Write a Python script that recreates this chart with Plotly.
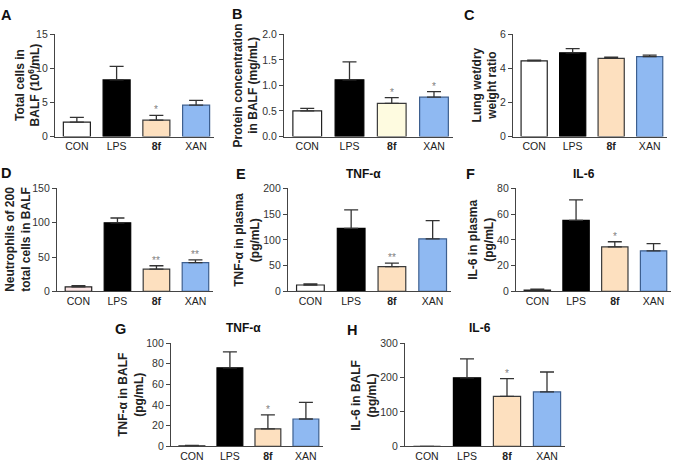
import plotly.graph_objects as go

W, H = 675, 466

groups = ["CON", "LPS", "8f", "XAN"]
group_ticks = ["CON", "LPS", "<b>8f</b>", "XAN"]

# A - total cells in BALF
total_cells = [2.1, 8.3, 2.4, 4.6]
total_cells_err = [0.7, 2.0, 0.7, 0.7]
total_cells_sig = ["", "", "*", ""]
# B - protein concentration in BALF
protein = [0.50, 1.11, 0.65, 0.77]
protein_err = [0.05, 0.35, 0.11, 0.11]
protein_sig = ["", "", "*", "*"]
# C - lung wet/dry ratio
wet_dry = [4.44, 4.91, 4.59, 4.69]
wet_dry_err = [0.04, 0.25, 0.06, 0.09]
wet_dry_sig = ["", "", "", ""]
# D - neutrophils
neutrophils = [6.6, 99.7, 32.3, 41.8]
neutrophils_err = [2.0, 7.0, 5.0, 4.0]
neutrophils_sig = ["", "", "**", "**"]
# E - TNF-a plasma
tnf_plasma = [12.5, 122.0, 48.0, 102.0]
tnf_plasma_err = [2.0, 36.0, 7.0, 35.0]
tnf_plasma_sig = ["", "", "**", ""]
# F - IL-6 plasma
il6_plasma = [1.0, 55.0, 34.5, 31.5]
il6_plasma_err = [0.8, 16.0, 4.0, 5.5]
il6_plasma_sig = ["", "", "*", ""]
# G - TNF-a BALF
tnf_balf = [0.6, 76.0, 17.0, 26.5]
tnf_balf_err = [0.4, 15.5, 13.5, 16.0]
tnf_balf_sig = ["", "", "*", ""]
# H - IL-6 BALF
il6_balf = [0.0, 199.0, 145.0, 158.0]
il6_balf_err = [0.0, 55.0, 52.0, 58.0]
il6_balf_sig = ["", "", "*", ""]

con_white = "#ffffff"
lps = "#000000"
peach = "#fde0bf"
blue = "#8fb9f2"

# box = plot area in pixels: (x of y-axis, x end, y of top tick, y of baseline)
panels = [
    dict(letter="A", v=total_cells, e=total_cells_err, s=total_cells_sig, ymax=15, dt=5, fmt="",
         yt="Total cells in<br>BALF (10<sup>6</sup>/mL)", t="", box=(55, 214, 29, 134), ytx=28,
         cols=[con_white, lps, peach, blue], lx=6, ly=9, tx=0),
    dict(letter="B", v=protein, e=protein_err, s=protein_sig, ymax=2.0, dt=0.5, fmt=".1f",
         yt="Protein concentration<br>in BALF (mg/mL)", t="", box=(284, 453, 29, 134), ytx=246,
         cols=[con_white, lps, "#fefbe0", blue], lx=237, ly=8, tx=0),
    dict(letter="C", v=wet_dry, e=wet_dry_err, s=wet_dry_sig, ymax=6, dt=2, fmt="",
         yt="Lung wet/dry<br>weight ratio", t="", box=(513, 667, 29, 134), ytx=485,
         cols=[con_white, lps, peach, blue], lx=469, ly=9, tx=0),
    dict(letter="D", v=neutrophils, e=neutrophils_err, s=neutrophils_sig, ymax=150, dt=50, fmt="",
         yt="Neutrophils of 200<br>total cells in BALF", t="", box=(57, 213, 187, 293), ytx=18,
         cols=["#fbe4e4", lps, peach, blue], lx=6, ly=171, tx=0),
    dict(letter="E", v=tnf_plasma, e=tnf_plasma_err, s=tnf_plasma_sig, ymax=200, dt=50, fmt="",
         yt="TNF-α in plasma<br>(pg/mL)", t="TNF-α", box=(288, 451, 187, 293), ytx=247,
         cols=[con_white, lps, peach, blue], lx=241, ly=172, tx=364),
    dict(letter="F", v=il6_plasma, e=il6_plasma_err, s=il6_plasma_sig, ymax=80, dt=20, fmt="",
         yt="IL-6 in plasma<br>(pg/mL)", t="IL-6", box=(516, 671, 187, 293), ytx=481,
         cols=["#c8c8c8", lps, peach, blue], lx=470, ly=172, tx=584),
    dict(letter="G", v=tnf_balf, e=tnf_balf_err, s=tnf_balf_sig, ymax=100, dt=20, fmt="",
         yt="TNF-α in BALF<br>(pg/mL)", t="TNF-α", box=(171, 323, 346, 452), ytx=131,
         cols=[con_white, lps, peach, blue], lx=120, ly=332, tx=244),
    dict(letter="H", v=il6_balf, e=il6_balf_err, s=il6_balf_sig, ymax=300, dt=100, fmt="",
         yt="IL-6 in BALF<br>(pg/mL)", t="IL-6", box=(405, 565, 346, 452), ytx=364,
         cols=[con_white, lps, peach, blue], lx=352, ly=333, tx=480),
]

FONT = "Liberation Sans, Arial, sans-serif"
fig = go.Figure()
annotations = []
layout = {}

for i, p in enumerate(panels, start=1):
    xa = "x" if i == 1 else f"x{i}"
    ya = "y" if i == 1 else f"y{i}"
    x0, x1, yt, yb = p["box"]
    outline = ["#222222", "#000000", "#3a3a3a", "#3d5f8f"]
    fig.add_trace(go.Bar(
        x=groups, y=p["v"], xaxis=xa, yaxis=ya, width=0.68,
        marker=dict(color=p["cols"], line=dict(color=outline, width=1.2)),
        error_y=dict(type="data", symmetric=False, array=p["e"], arrayminus=[0] * 4,
                     color="#333333", thickness=1.3, width=7),
        showlegend=False, hoverinfo="skip",
    ))
    layout["xaxis" if i == 1 else f"xaxis{i}"] = dict(
        domain=[x0 / W, x1 / W], anchor=ya, range=[-0.55, 3.45],
        tickmode="array", tickvals=groups, ticktext=group_ticks,
        showline=True, linecolor="#444444", linewidth=1.2, ticks="", showgrid=False,
        tickfont=dict(size=10.5, color="#222222", family=FONT), fixedrange=True,
    )
    layout["yaxis" if i == 1 else f"yaxis{i}"] = dict(
        domain=[1 - yb / H, 1 - yt / H], anchor=xa, range=[0, p["ymax"]],
        dtick=p["dt"], tickformat=p["fmt"], showline=True, linecolor="#444444", linewidth=1.2,
        ticks="outside", ticklen=4, tickcolor="#444444", showgrid=False, zeroline=False,
        tickfont=dict(size=10.5, color="#333333", family=FONT), fixedrange=True,
    )
    # significance marks
    for g, v, e, s in zip(groups, p["v"], p["e"], p["s"]):
        if s:
            annotations.append(dict(x=g, y=v + e, xref=xa, yref=ya, text=s, showarrow=False,
                                    xanchor="center", yanchor="bottom", yshift=-2,
                                    font=dict(size=10, color="#808080", family=FONT)))
    # y-axis title
    annotations.append(dict(x=p["ytx"] / W, y=1 - (yt + yb) / 2 / H, xref="paper", yref="paper",
                            text="<b>" + p["yt"] + "</b>", textangle=-90, showarrow=False,
                            xanchor="center", yanchor="middle",
                            font=dict(size=12, color="#222222", family=FONT)))
    # panel letter
    annotations.append(dict(x=p["lx"] / W, y=1 - p["ly"] / H, xref="paper", yref="paper",
                            text="<b>" + p["letter"] + "</b>", showarrow=False,
                            xanchor="center", yanchor="middle",
                            font=dict(size=14.5, color="#111111", family=FONT)))
    # panel title
    if p["t"]:
        annotations.append(dict(x=p["tx"] / W, y=1 - (yt - 15) / H, xref="paper", yref="paper",
                                text="<b>" + p["t"] + "</b>", showarrow=False,
                                xanchor="center", yanchor="middle",
                                font=dict(size=12, color="#111111", family=FONT)))

fig.update_layout(
    width=W, height=H, margin=dict(l=0, r=0, t=0, b=0),
    paper_bgcolor="white", plot_bgcolor="white",
    font=dict(family=FONT), annotations=annotations, bargap=0.3,
    **layout,
)

fig.write_html("out.html", config={"displayModeBar": False},
               post_script="document.body.style.margin='0';")
